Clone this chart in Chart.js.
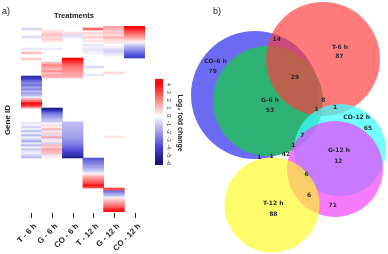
<!DOCTYPE html>
<html><head><meta charset="utf-8">
<script src="https://cdn.jsdelivr.net/npm/chart.js@4"></script>
<style>
html,body{margin:0;padding:0;background:#fff;}
#wrap{position:relative;width:388px;height:254px;overflow:hidden;background:#fff;}
canvas{position:absolute;top:0;}
#heat{left:0;}
#venn{left:190px;}
</style></head><body>
<div id="wrap"><canvas id="venn" width="198" height="254"></canvas><canvas id="heat" width="190" height="254"></canvas></div>
<script>
// ---------- Heatmap data (log2 fold change per gene row, top to bottom) ----------
const treatments = ['T - 6 h','G - 6 h','CO - 6 h','T - 12 h','G - 12 h','CO - 12 h'];
const T6 = [
 0,-0.8,0,0,0,-0.7,0,0,0,0,
 0,-0.5,0,1.0,0,0,0.8,0,0,0,
 0,0,0,0,0,-4.8,-4,-3,-2.5,-3,
 -2,-2.5,-1.5,-2,-1.5,-0.5,1.5,2.5,4,3.5,
 2,0,0,0,0,0,0,0,-0.5,-0.3,
 -1,0,-1.2,-0.4,-1.5,-0.3,-1,-1.8,-0.5,-1.5,
 -0.3,-1.2,-0.6,-0.4,-1,-1.5,0,0,0,0,
 0,0,0,0,0,0,0,0,0,0,
 0,0,0,0,0,0,0,0,0,0,
 0,0,0];
const G6 = [
 0,0,0.5,0.8,1.0,0.6,0.8,0.4,0,0,
 0,-0.4,0,0,0,0,0,0,1.2,2,
 1.5,1.2,1.8,1.0,1.5,1.2,0,0,0,0,
 0,0,0,0,0,0,0,0,0,0,
 0,-5.5,-4,-3,-2.5,-2,-1.5,-1.2,-0.3,0.5,
 0.3,1.2,-0.5,0.8,-0.8,1.5,-0.6,0.4,-1,1.2,
 0.8,1.5,1.2,1.0,-0.5,0.3,0,0,0,0,
 0,0,0,0,0,0,0,0,0,0,
 0,0,0,0,0,0,0,0,0,0,
 0,0,0];
const CO6 = [
 0,0,0,0.5,-0.8,-0.5,0,0,0,0,
 0,0,0,0,0,0,4,3.5,3,2.5,
 2.2,2,1.8,1.5,1.5,1.2,0,0,0,0,
 0,0,0,0,0,0,0,0,0,0,
 0,0,0,0,0,0,0,0,-1.5,-1.5,
 -1.6,-1.7,-1.8,-1.9,-2,-2.1,-2.3,-2.5,-2.7,-3,
 -3.3,-3.6,-4,-4.5,-4.8,-5.5,0,0,0,0,
 0,0,0,0,0,0,0,0,0,0,
 0,0,0,0,0,0,0,0,0,0,
 0,0,0];
const T12 = [
 0,2.5,0,0.6,0.4,0.8,0.3,0.5,0,-0.5,
 -0.3,-0.6,-0.4,-0.3,0,0,0,0,0,0,
 -0.8,0,0,0,-0.5,0,0,0,0,0,
 0,0,0,0,0,0,0,0,0,0,
 0,0,0,0,0,0,0,0,0,0,
 0,0,0,0,0,0,0,0,0,0,
 0,0,0,0,0,0,-3.5,-3,-2.8,-2.2,
 -2,-1.5,-1,-0.3,0.8,1.5,2,2.5,3,3.8,
 3,0,0,0,0,0,0,0,0,0,
 0,0,0];
const G12 = [
 1.5,1.2,0.8,1.0,0.6,1.3,0.8,0.5,0.3,0,
 -0.3,-0.8,-1.0,-0.7,-0.4,0,0,0,0,0,
 0,0,0,0.6,0,0,0,0,0,0,
 0,0,0,0,0,0,0,0,0,0,
 0,0,0,0,0,0,0,0,0,0,
 0,0,0,0,0,0.4,0,0,0,0,
 0,0,0,0,0,0,0,0,0,0,
 0,0,0,0,0,0,0,0,0,0,
 0,3,-3,-2.2,-1.5,-0.4,0.8,1.2,1.8,2.2,
 2.8,3.5,4];
const CO12 = [
 4,3.6,3,2.5,2,1.5,1,0.4,-0.5,-1.2,
 -1.8,-2.3,-2.8,-3.3,-3.8,-4.2,0,0,0,0,
 0,0,0,0,0,0,0,0,0,0,
 0,0,0,0,0,0,0,0,0,0,
 0,0,0,0,0,0,0,0,0,0,
 0,0,0,0,0,0,0,0,0,0,
 0,0,0,0,0,0,0,0,0,0,
 0,0,0,0,0,0,0,0,0,0,
 0,0,0,0,0,0,0,0,0,0,
 0,0,0];
const colorbarTicks = [4,3,2,1,0,-1,-2,-3,-4,-5,-6];

// ---------- Venn data ----------
const vennSetNames = ['CO-6 h','G-6 h','T-6 h','CO-12 h','G-12 h','T-12 h'];
const vennCounts = [14,87,79,29,53,8,1,1,65,7,1,12,1,1,42,6,6,88,71];
// layout
const vennCircleX = [255,268,323,340,335,272];
const vennCircleY = [95,101,59,150,169,205];
const vennCircleR = [64,55,57,46,48,47.5];
const vennCircleColor = ['rgba(70,70,240,0.8)','rgba(40,185,105,0.92)','rgba(255,60,60,0.68)','rgba(60,255,255,0.72)','rgba(240,60,250,0.68)','rgba(255,250,30,0.66)'];
const vennNameX = [215.5,270,340,356.7,339,273.3];
const vennNameY = [61.7,100.7,47.3,117.3,150,203.3];
const vennCountX = [276.7,339.3,212.7,295,270,323.3,316.7,335,368,302.3,293.3,338.3,259.3,271.7,286,306.7,309,273.3,332.7];
const vennCountY = [39.3,56.7,71.7,77.3,110.7,100,109.3,107.3,128.3,135,145,161.7,157.3,156,154,174,195.7,214,205];

function colorFor(v){
  if (v === 0) return 'rgba(255,255,255,0)';
  let c;
  if (v > 0){ const t=Math.min(v/4,1); c=[255-5*t, 255-245*t, 255-245*t]; }
  else if (v >= -4){ const t=-v/4; c=[255-185*t, 255-185*t, 255-40*t]; }
  else { const t=Math.min((-v-4)/2,1); c=[70-50*t, 70-50*t, 215-105*t]; }
  return 'rgb('+c.map(Math.round).join(',')+')';
}

const cols = [T6, G6, CO6, T12, G12, CO12];
const nRows = T6.length;
const heatSets = [];
for (let r = 0; r < nRows; r++) {
  heatSets.push({
    data: treatments.map(() => 1),
    backgroundColor: cols.map(c => colorFor(c[r])),
    borderWidth: 0, barPercentage: 1, categoryPercentage: 1, stack: 's'
  });
}

const heatDeco = {
  id: 'heatDeco',
  afterDraw(chart) {
    const ctx = chart.ctx, xs = chart.scales.x, area = chart.chartArea;
    ctx.save();
    ctx.fillStyle = '#222'; ctx.strokeStyle = '#222'; ctx.lineWidth = 1;
    // ticks & labels
    treatments.forEach((lab, i) => {
      const x = Math.round(xs.getPixelForValue(i)) + 0.5;
      ctx.beginPath(); ctx.moveTo(x, area.bottom + 1); ctx.lineTo(x, area.bottom + 6); ctx.stroke();
      ctx.save();
      ctx.translate(x + 4, area.bottom + 13);
      ctx.rotate(-Math.PI / 4);
      ctx.font = 'bold 8px "Liberation Sans", Arial, sans-serif';
      ctx.textAlign = 'right'; ctx.textBaseline = 'middle';
      ctx.fillText(lab, 0, 0);
      ctx.restore();
    });
    // title
    ctx.font = 'bold 7.5px "Liberation Sans", Arial, sans-serif';
    ctx.textAlign = 'center'; ctx.textBaseline = 'middle';
    ctx.fillText('Treatments', 74, 16);
    ctx.font = '9px "Liberation Sans", Arial, sans-serif';
    ctx.textAlign = 'left';
    ctx.fillText('a)', 2, 12);
    // Gene ID
    ctx.save(); ctx.translate(8, 120); ctx.rotate(-Math.PI / 2);
    ctx.font = 'bold 8px "Liberation Sans", Arial, sans-serif'; ctx.textAlign = 'center';
    ctx.fillText('Gene ID', 0, 0); ctx.restore();
    // colorbar
    const cbTop = 79, cbBot = 165, cbL = 155, cbW = 8, vTop = 4.7, vBot = -6.3;
    const yOf = v => cbTop + (vTop - v) / (vTop - vBot) * (cbBot - cbTop);
    for (let y = cbTop; y < cbBot; y++) {
      const v = vTop - (y + 0.5 - cbTop) / (cbBot - cbTop) * (vTop - vBot);
      ctx.fillStyle = v === 0 ? '#fff' : colorFor(v);
      ctx.fillRect(cbL, y, cbW, 1);
    }
    ctx.fillStyle = '#333';
    ctx.font = '6px "Liberation Sans", Arial, sans-serif';
    colorbarTicks.forEach(t => {
      ctx.save(); ctx.translate(169, yOf(t)); ctx.rotate(Math.PI / 2);
      ctx.textAlign = 'center'; ctx.textBaseline = 'middle';
      ctx.fillText(String(t), 0, 0); ctx.restore();
    });
    ctx.save(); ctx.translate(180, 123); ctx.rotate(Math.PI / 2);
    ctx.font = 'bold 7px "Liberation Sans", Arial, sans-serif';
    ctx.textAlign = 'center'; ctx.textBaseline = 'middle'; ctx.fillStyle = '#222';
    ctx.fillText('Log\u2082 fold change', 0, 0); ctx.restore();
    ctx.restore();
  }
};

new Chart(document.getElementById('heat'), {
  type: 'bar',
  data: { labels: treatments, datasets: heatSets },
  options: {
    responsive: false, animation: false, devicePixelRatio: 1,
    layout: { padding: { left: 21, right: 45, top: 26, bottom: 42 } },
    plugins: { legend: { display: false }, tooltip: { enabled: false } },
    scales: {
      x: { display: false, stacked: true, offset: true },
      y: { display: false, stacked: true, min: 0, max: nRows, reverse: true }
    }
  },
  plugins: [heatDeco]
});

// ---------- Venn ----------
const vennOrder = [6,5,4,3,2,1];
const vennSetsData = vennSetNames.map((name, i) => ({
  label: name,
  data: [{ x: vennCircleX[i], y: vennCircleY[i] }],
  order: vennOrder[i],
  clip: false,
  pointBackgroundColor: vennCircleColor[i],
  pointBorderWidth: 0,
  pointBorderColor: 'rgba(0,0,0,0)',
  pointRadius: (c) => { const s = c.chart.scales.x; return s.getPixelForValue(vennCircleX[i] + vennCircleR[i]) - s.getPixelForValue(vennCircleX[i]); },
  pointHoverRadius: (c) => { const s = c.chart.scales.x; return s.getPixelForValue(vennCircleX[i] + vennCircleR[i]) - s.getPixelForValue(vennCircleX[i]); }
}));

const vennText = {
  id: 'vennText',
  afterDatasetsDraw(chart) {
    const ctx = chart.ctx, xs = chart.scales.x, ys = chart.scales.y;
    ctx.save();
    ctx.fillStyle = '#2a2a2a';
    ctx.textAlign = 'center'; ctx.textBaseline = 'middle';
    ctx.font = 'bold 6px "DejaVu Sans", Verdana, sans-serif';
    vennSetNames.forEach((n, i) => ctx.fillText(n, xs.getPixelForValue(vennNameX[i]), ys.getPixelForValue(vennNameY[i])));
    vennCounts.forEach((n, i) => ctx.fillText(String(n), xs.getPixelForValue(vennCountX[i]), ys.getPixelForValue(vennCountY[i])));
    ctx.font = '9px "Liberation Sans", Arial, sans-serif';
    ctx.fillStyle = '#222'; ctx.textAlign = 'left';
    ctx.fillText('b)', xs.getPixelForValue(213), ys.getPixelForValue(12));
    ctx.restore();
  }
};

new Chart(document.getElementById('venn'), {
  type: 'scatter',
  data: { datasets: vennSetsData },
  options: {
    responsive: false, animation: false, devicePixelRatio: 1,
    layout: { padding: 0 },
    plugins: { legend: { display: false }, tooltip: { enabled: false } },
    scales: {
      x: { display: false, type: 'linear', min: 190, max: 388 },
      y: { display: false, type: 'linear', min: 0, max: 254, reverse: true }
    }
  },
  plugins: [vennText]
});
</script>
</body></html>
